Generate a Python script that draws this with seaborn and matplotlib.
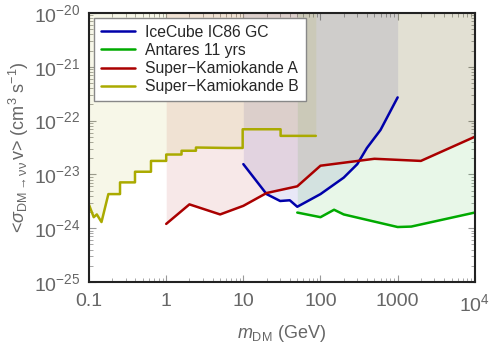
import matplotlib
matplotlib.use("Agg")
import matplotlib.pyplot as plt
import seaborn as sns
import pandas as pd

# IceCube IC86 GC
ic_m = [10, 20, 30, 40, 50, 100, 200, 300, 400, 600, 1000]
ic_s = [1.55e-23, 4.3e-24, 3.2e-24, 3.3e-24, 2.5e-24, 4.3e-24, 8.7e-24, 1.55e-23, 3.1e-23, 6.7e-23, 2.7e-22]

# Antares 11 yrs
an_m = [50, 100, 150, 200, 1000, 1500, 10000]
an_s = [1.95e-24, 1.6e-24, 2.2e-24, 1.8e-24, 1.05e-24, 1.07e-24, 1.95e-24]

# Super-Kamiokande A
ska_m = [1, 2, 5, 10, 20, 50, 100, 500, 2000, 10000]
ska_s = [1.2e-24, 2.77e-24, 1.8e-24, 2.6e-24, 4.5e-24, 6.0e-24, 1.45e-23, 1.95e-23, 1.78e-23, 5.0e-23]

# Super-Kamiokande B (step-like)
skb_m = [0.1, 0.115, 0.126, 0.145, 0.178, 0.252, 0.252, 0.394, 0.394, 0.635, 0.635, 1.0, 1.0,
         1.58, 1.58, 2.43, 2.43, 6.1, 9.8, 9.8, 30.4, 30.4, 87]
skb_s = [2.7e-24, 1.6e-24, 1.8e-24, 1.3e-24, 4.3e-24, 4.3e-24, 7.1e-24, 7.1e-24, 1.12e-23, 1.12e-23,
         1.78e-23, 1.78e-23, 2.34e-23, 2.34e-23, 2.75e-23, 2.75e-23, 3.16e-23, 3.1e-23, 3.1e-23,
         6.9e-23, 6.9e-23, 5.2e-23, 5.2e-23]

series = [
    ("IceCube IC86 GC", ic_m, ic_s, "#0000AA"),
    ("Antares 11 yrs", an_m, an_s, "#00AA00"),
    ("Super\u2212Kamiokande A", ska_m, ska_s, "#AA0000"),
    ("Super\u2212Kamiokande B", skb_m, skb_s, "#AAAA00"),
]

sns.set_style("ticks")
plt.rcParams['font.family'] = ['Liberation Sans', 'DejaVu Sans']
plt.rcParams['mathtext.fontset'] = 'custom'
plt.rcParams['mathtext.rm'] = 'Liberation Sans'
plt.rcParams['mathtext.it'] = 'Liberation Sans:italic'

fig = plt.figure(figsize=(4.92, 3.43), dpi=100)
ax = fig.add_axes([0.181, 0.178, 0.784, 0.784])

for name, m, s, c in series:
    ax.fill_between(m, s, 1e-20, color=c, alpha=0.09, linewidth=0)
for name, m, s, c in series:
    df = pd.DataFrame({"m": m, "s": s})
    sns.lineplot(data=df, x="m", y="s", sort=False, estimator=None, color=c, lw=1.8,
                 label=name, ax=ax)

ax.set_xscale("log")
ax.set_yscale("log")
ax.set_xlim(0.1, 1e4)
ax.set_ylim(1e-25, 1e-20)
ax.set_xticks([0.1, 1, 10, 100, 1000, 1e4])
ax.set_xticklabels(["0.1", "1", "10", "100", "1000", r"$10^{4}$"])
ax.set_yticks([1e-25, 1e-24, 1e-23, 1e-22, 1e-21, 1e-20])
ax.set_yticklabels([r"$10^{-%d}$" % k for k in [25, 24, 23, 22, 21, 20]])

ax.tick_params(which="both", direction="in", top=True, right=True, color="#999999",
               labelcolor="#666666", labelsize=14)
ax.tick_params(axis="x", pad=8)
ax.tick_params(axis="y", pad=6)
ax.tick_params(which="major", length=5)
ax.tick_params(which="minor", length=3)
for sp in ax.spines.values():
    sp.set_linewidth(1.5)
    sp.set_color("#222222")

ax.set_xlabel(r"$m_{\rm DM}$ (GeV)", color="#666666", fontsize=13, labelpad=6)
ax.set_ylabel(r"<$\sigma_{\rm DM\rightarrow\nu\nu}\,$v> (cm$^3$ s$^{-1}$)", color="#666666",
              fontsize=13, labelpad=2)

leg = ax.legend(loc="upper left", fontsize=11.3, frameon=True, fancybox=False,
                framealpha=1, edgecolor="#888888", handlelength=2.2,
                borderpad=0.45, labelspacing=0.2, borderaxespad=0.3, handletextpad=0.6)
leg.get_frame().set_linewidth(1.0)

fig.savefig("out.png", dpi=100)
